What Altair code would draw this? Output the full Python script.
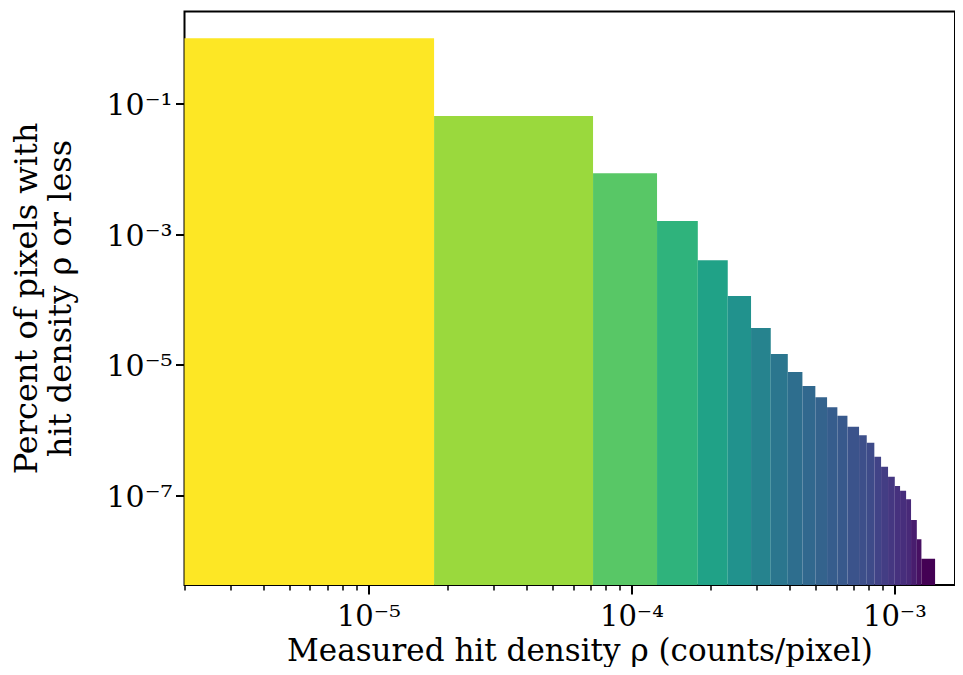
import altair as alt
import pandas as pd

# Bin edges (counts/pixel) and bar heights (percent of pixels)
left_edges = [1.0e-6, 1.778e-5, 7.15e-5, 1.252e-4, 1.789e-4, 2.325e-4, 2.851e-4, 3.388e-4,
              3.933e-4, 4.47e-4, 5.006e-4, 5.547e-4, 6.07e-4, 6.63e-4, 7.34e-4, 7.85e-4,
              8.39e-4, 8.90e-4, 9.46e-4, 1.0035e-3, 1.051e-3, 1.108e-3, 1.157e-3, 1.217e-3,
              1.267e-3]
right_edges = [1.778e-5, 7.15e-5, 1.252e-4, 1.789e-4, 2.325e-4, 2.851e-4, 3.388e-4, 3.933e-4,
               4.47e-4, 5.006e-4, 5.547e-4, 6.07e-4, 6.63e-4, 7.34e-4, 7.85e-4, 8.39e-4,
               8.90e-4, 9.46e-4, 1.0035e-3, 1.051e-3, 1.108e-3, 1.157e-3, 1.217e-3, 1.267e-3,
               1.428e-3]
percent = [0.986, 0.0639, 8.51e-3, 1.585e-3, 3.97e-4, 1.132e-4, 3.67e-5, 1.468e-5, 7.80e-6,
           4.76e-6, 3.20e-6, 2.25e-6, 1.67e-6, 1.135e-6, 8.39e-7, 6.46e-7, 3.94e-7, 2.77e-7,
           1.95e-7, 1.41e-7, 1.19e-7, 8.81e-8, 4.25e-8, 2.15e-8, 1.08e-8]

x_domain = [2.0e-6, 1.70e-3]
y_domain = [4.3e-9, 2.53]
y_floor = 1e-10

x_ticks = [k * 10.0 ** e for e in range(-6, -2) for k in range(1, 10)
           if x_domain[0] <= k * 10.0 ** e <= x_domain[1]]
y_ticks = [1e-7, 1e-5, 1e-3, 1e-1]

df = pd.DataFrame({"x0": left_edges, "x1": right_edges, "pct": percent, "base": y_floor})

E = "round(log(datum.value)/LN10)"
is_dec = f"abs(log(datum.value)/LN10 - {E}) < 0.001"
sup = {-9: "⁻⁹", -8: "⁻⁸", -7: "⁻⁷", -6: "⁻⁶", -5: "⁻⁵", -4: "⁻⁴", -3: "⁻³",
       -2: "⁻²", -1: "⁻¹", 0: "⁰"}
chain = "''"
for e, s in sup.items():
    chain = f"({E}=={e} ? '10{s}' : {chain})"
label_expr = f"({is_dec}) ? {chain} : ''"

FONT = "DejaVu Serif"

x_axis = alt.Axis(
    values=x_ticks, labelExpr=label_expr, labelOverlap=False, labelFlush=False,
    grid=False, domain=False,
    tickSize={"condition": {"test": is_dec, "value": 9}, "value": 5},
    tickWidth={"condition": {"test": is_dec, "value": 2}, "value": 1.5},
    tickColor="black", labelColor="black", labelFont=FONT, labelFontSize=29,
    labelPadding=8, title="Measured hit density ρ (counts/pixel)",
    titleFont=FONT, titleFontSize=31, titleFontWeight="normal", titleColor="black",
    titleBaseline="alphabetic", titleAlign="center", titleX=395, titleY=75.5,
)
y_axis = alt.Axis(
    values=y_ticks, labelExpr=label_expr, labelOverlap=False, labelFlush=False,
    grid=False, domain=False, tickSize=9, tickWidth=2, tickColor="black",
    labelColor="black", labelFont=FONT, labelFontSize=30, labelPadding=3.5, labelOffset=2,
    title=["Percent of pixels with", "hit density ρ or less"],
    titleFont=FONT, titleFontSize=32, titleFontWeight="normal", titleColor="black",
    titleLineHeight=34, titleBaseline="alphabetic", titleAlign="center",
    titleX=-148, titleY=286.5,
)

chart = alt.Chart(df).mark_rect(clip=True).encode(
    x=alt.X("x0:Q", scale=alt.Scale(type="log", domain=x_domain, nice=False), axis=x_axis),
    x2="x1:Q",
    y=alt.Y("pct:Q", scale=alt.Scale(type="log", domain=y_domain, nice=False), axis=y_axis),
    y2="base:Q",
    color=alt.Color("pct:Q", scale=alt.Scale(type="log", scheme="viridis"), legend=None),
).properties(
    width=770.5, height=573.5,
    autosize=alt.AutoSizeParams(type="none"),
    padding={"left": 176.5, "top": 3.5, "right": 0, "bottom": 82},
).configure_view(stroke="black", strokeWidth=2)

chart.save("out.html", embed_options={"renderer": "svg", "actions": False})
